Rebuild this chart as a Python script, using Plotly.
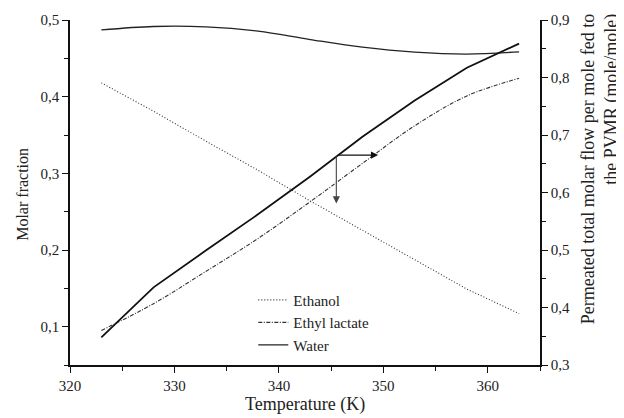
import plotly.graph_objects as go

# Temperature (K)
temperature = [323, 328, 333, 338, 343, 348, 353, 358, 363]

# Molar fractions in the permeate (left axis)
ethanol = [0.418, 0.381, 0.342, 0.304, 0.264, 0.226, 0.187, 0.149, 0.117]
ethyl_lactate = [0.095, 0.130, 0.172, 0.215, 0.263, 0.313, 0.362, 0.401, 0.424]
water = [0.487, 0.4915, 0.491, 0.4855, 0.4745, 0.4645, 0.458, 0.4555, 0.4585]

# Permeated total molar flow per mole fed (right axis)
permeated_flow = [0.348, 0.435, 0.499, 0.562, 0.628, 0.697, 0.760, 0.817, 0.859]

# Arrow marker (point on the flow curve and arrow ends)
arrow_T = 345.5
arrow_flow = 0.665
arrow_T_end = 349.5
arrow_flow_end = 0.581

FONT = "Liberation Serif"
TXT = "#222222"

# plot area in figure pixels
L, R, T, B = 61.5, 532.0, 11.5, 357.0
W_FIG, H_FIG = 616, 410
PW, PH = R - L, B - T

fig = go.Figure()
fig.add_trace(go.Scatter(x=temperature, y=ethanol, name="Ethanol", mode="lines",
                         line=dict(color="#333333", width=1.1, dash="1px,2px")))
fig.add_trace(go.Scatter(x=temperature, y=ethyl_lactate, name="Ethyl lactate", mode="lines",
                         line=dict(color="#333333", width=1.1, dash="4px,1.5px,1px,1.5px"),
                         line_shape="spline"))
fig.add_trace(go.Scatter(x=temperature, y=water, name="Water", mode="lines",
                         line=dict(color="#222222", width=1.3), line_shape="spline"))
fig.add_trace(go.Scatter(x=temperature, y=permeated_flow, name="Permeated flow", mode="lines",
                         line=dict(color="#111111", width=1.8), yaxis="y2", showlegend=False))

# arrows
fig.add_annotation(x=arrow_T_end, y=arrow_flow, ax=arrow_T, ay=arrow_flow,
                   xref="x", yref="y2", axref="x", ayref="y2", text="",
                   showarrow=True, arrowhead=2, arrowsize=1.3, arrowwidth=1.1,
                   arrowcolor="#111111")
fig.add_annotation(x=arrow_T, y=arrow_flow_end, ax=arrow_T, ay=arrow_flow,
                   xref="x", yref="y2", axref="x", ayref="y2", text="",
                   showarrow=True, arrowhead=2, arrowsize=1.3, arrowwidth=1.1,
                   arrowcolor="#444444")

# axis titles as annotations
fig.add_annotation(text="Permeated total molar flow per mole fed to<br>the PVMR (mole/mole)",
                   xref="paper", yref="paper", x=(592 - L) / PW, y=(B - 161) / PH,
                   xanchor="center", yanchor="middle", showarrow=False,
                   textangle=-90, align="right", font=dict(family=FONT, size=18, color=TXT))
fig.add_annotation(text="Molar fraction", xref="paper", yref="paper",
                   x=(14 - L) / PW, y=(B - 186) / PH, xanchor="center", yanchor="middle",
                   showarrow=False, textangle=-90, font=dict(family=FONT, size=16, color=TXT))
fig.add_annotation(text="Temperature (K)", xref="paper", yref="paper",
                   x=(297 - L) / PW, y=(B - 397) / PH, xanchor="center", yanchor="middle",
                   showarrow=False, font=dict(family=FONT, size=18, color=TXT))

axis_common = dict(showline=True, linecolor="#111111", linewidth=1.5, ticks="outside",
                   ticklen=6, tickwidth=1.3, tickcolor="#111111", showgrid=False,
                   zeroline=False, automargin=False,
                   tickfont=dict(family=FONT, size=15, color=TXT))

fig.update_layout(
    width=W_FIG, height=H_FIG,
    margin=dict(l=L, r=W_FIG - R, t=T, b=H_FIG - B),
    paper_bgcolor="white", plot_bgcolor="white",
    separators=",.",
    font=dict(family=FONT, color=TXT),
    xaxis=dict(range=[320, 365], dtick=10, tick0=320,
               minor=dict(dtick=5, ticks="outside", ticklen=4, tickcolor="#111111", showgrid=False),
               **axis_common),
    yaxis=dict(range=[0.05, 0.5], dtick=0.1, tick0=0.1, tickformat=".1f",
               minor=dict(dtick=0.05, ticks="outside", ticklen=4, tickcolor="#111111", showgrid=False),
               **axis_common),
    yaxis2=dict(range=[0.3, 0.9], dtick=0.1, tick0=0.3, tickformat=".1f", overlaying="y", side="right",
                minor=dict(dtick=0.05, ticks="outside", ticklen=4, tickcolor="#111111", showgrid=False),
                **axis_common),
    legend=dict(x=0.39, y=0.236, xanchor="left", yanchor="top", bgcolor="rgba(0,0,0,0)",
                font=dict(family=FONT, size=15, color=TXT), itemwidth=30, tracegroupgap=0),
    showlegend=True,
)

fig.write_html("out.html")
